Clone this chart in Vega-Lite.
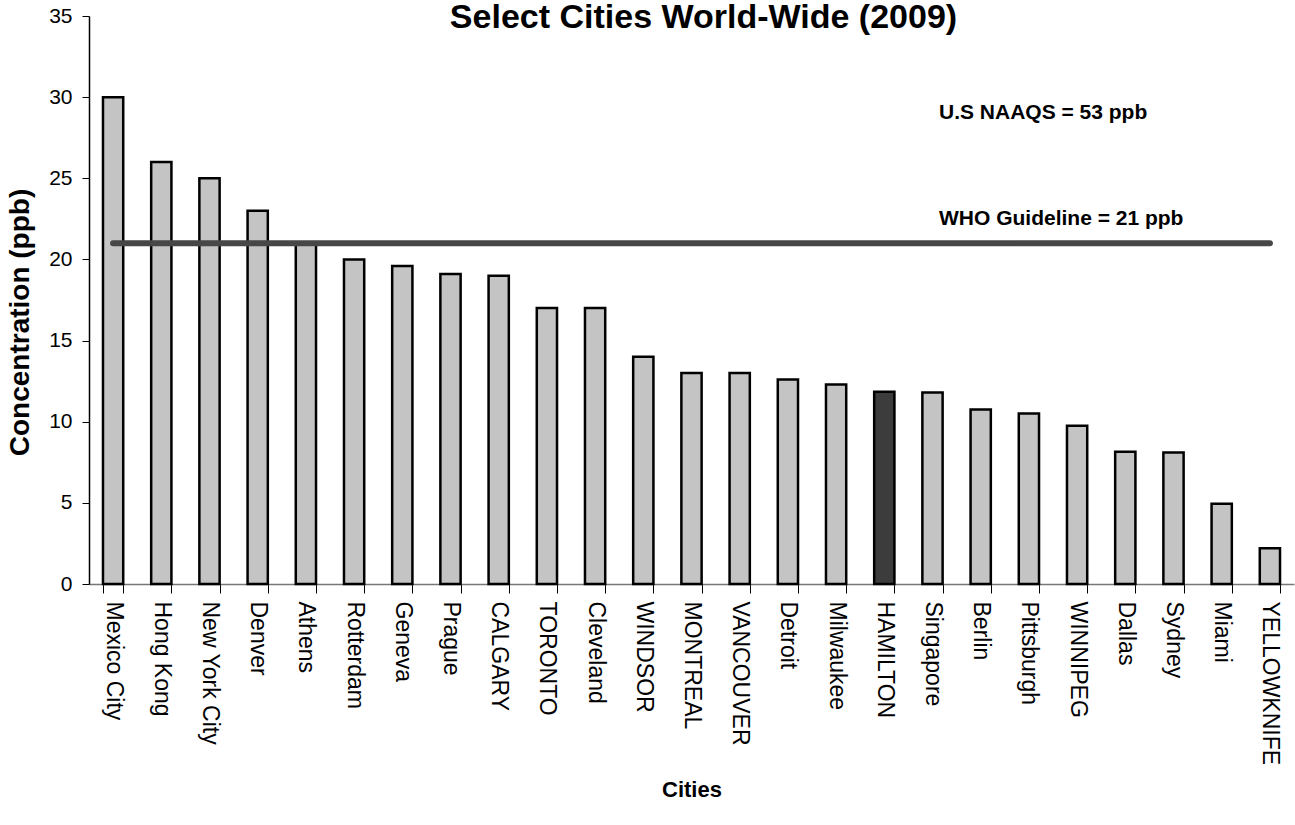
{
  "$schema": "https://vega.github.io/schema/vega-lite/v6.json",
  "autosize": "none",
  "width": 1205,
  "height": 568,
  "padding": {"left": 89, "top": 16, "right": 1, "bottom": 241},
  "background": "white",
  "config": {
    "view": {"stroke": null},
    "font": "Liberation Sans"
  },
  "title": {
    "text": "Select Cities World-Wide (2009)",
    "font": "Liberation Sans",
    "fontSize": 34,
    "fontWeight": "bold",
    "color": "#000000",
    "anchor": "middle",
    "baseline": "alphabetic",
    "offset": -57,
    "dx": 12
  },
  "datasets": {
    "bars": [
      {"city": "Mexico City", "ppb": 30},
      {"city": "Hong Kong", "ppb": 26},
      {"city": "New York City", "ppb": 25},
      {"city": "Denver", "ppb": 23},
      {"city": "Athens", "ppb": 21},
      {"city": "Rotterdam", "ppb": 20},
      {"city": "Geneva", "ppb": 19.6},
      {"city": "Prague", "ppb": 19.1},
      {"city": "CALGARY", "ppb": 19},
      {"city": "TORONTO", "ppb": 17},
      {"city": "Cleveland", "ppb": 17},
      {"city": "WINDSOR", "ppb": 14},
      {"city": "MONTREAL", "ppb": 13},
      {"city": "VANCOUVER", "ppb": 13},
      {"city": "Detroit", "ppb": 12.6},
      {"city": "Milwaukee", "ppb": 12.3},
      {"city": "HAMILTON", "ppb": 11.85},
      {"city": "Singapore", "ppb": 11.8},
      {"city": "Berlin", "ppb": 10.75},
      {"city": "Pittsburgh", "ppb": 10.5},
      {"city": "WINNIPEG", "ppb": 9.75},
      {"city": "Dallas", "ppb": 8.15},
      {"city": "Sydney", "ppb": 8.1},
      {"city": "Miami", "ppb": 4.95},
      {"city": "YELLOWKNIFE", "ppb": 2.2}
    ],
    "guideline": [
      {"from": "Mexico City", "to": "YELLOWKNIFE", "ppb": 21}
    ],
    "notes": [
      {"city": "Singapore", "ppb": 29, "label": "U.S NAAQS = 53 ppb"},
      {"city": "Singapore", "ppb": 22.5, "label": "WHO Guideline = 21 ppb"}
    ]
  },
  "layer": [
    {
      "data": {"name": "bars"},
      "mark": {"type": "bar", "stroke": "#000000", "strokeWidth": 2.5},
      "encoding": {
        "x": {
          "field": "city",
          "type": "nominal",
          "sort": null,
          "scale": {"paddingInner": 0.58, "paddingOuter": 0.29},
          "axis": {
            "title": "Cities",
            "titleFont": "Liberation Sans",
            "titleFontSize": 22,
            "titleFontWeight": "bold",
            "titleColor": "#000000",
            "titleY": 205,
            "titleBaseline": "middle",
            "labelAngle": 90,
            "labelAlign": "left",
            "labelBaseline": "middle",
            "labelFont": "Liberation Sans",
            "labelFontSize": 23,
            "labelColor": "#000000",
            "labelPadding": 8,
            "labelOverlap": false,
            "labelLimit": 0,
            "tickBand": "extent",
            "tickSize": 9,
            "tickColor": "#000000",
            "domainColor": "#777777",
            "domainWidth": 1.5
          }
        },
        "y": {
          "field": "ppb",
          "type": "quantitative",
          "scale": {"domain": [0, 35], "nice": false},
          "axis": {
            "title": "Concentration (ppb)",
            "titleFont": "Liberation Sans",
            "titleFontSize": 28,
            "titleFontWeight": "bold",
            "titleColor": "#000000",
            "titleX": -69,
            "titleY": 306,
            "titleAngle": -90,
            "titleBaseline": "middle",
            "titleAlign": "center",
            "values": [0, 5, 10, 15, 20, 25, 30, 35],
            "labelFont": "Liberation Sans",
            "labelFontSize": 21,
            "labelColor": "#000000",
            "labelPadding": 10,
            "tickSize": 7,
            "tickColor": "#000000",
            "domainColor": "#000000",
            "domainWidth": 1.5,
            "grid": false
          }
        },
        "fill": {
          "condition": {"test": "datum.city === 'HAMILTON'", "value": "#3c3c3c"},
          "value": "#c4c4c4"
        }
      }
    },
    {
      "data": {"name": "guideline"},
      "mark": {"type": "rule", "color": "#474747", "strokeWidth": 6, "strokeCap": "round"},
      "encoding": {
        "x": {"field": "from", "type": "nominal", "sort": null},
        "x2": {"field": "to"},
        "y": {"field": "ppb", "type": "quantitative"}
      }
    },
    {
      "data": {"name": "notes"},
      "mark": {"type": "text", "align": "left", "baseline": "middle", "font": "Liberation Sans", "fontSize": 21, "fontWeight": "bold", "color": "#000000"},
      "encoding": {
        "x": {"field": "city", "type": "nominal", "sort": null, "bandPosition": 0.82},
        "y": {"field": "ppb", "type": "quantitative"},
        "text": {"field": "label"}
      }
    }
  ]
}
